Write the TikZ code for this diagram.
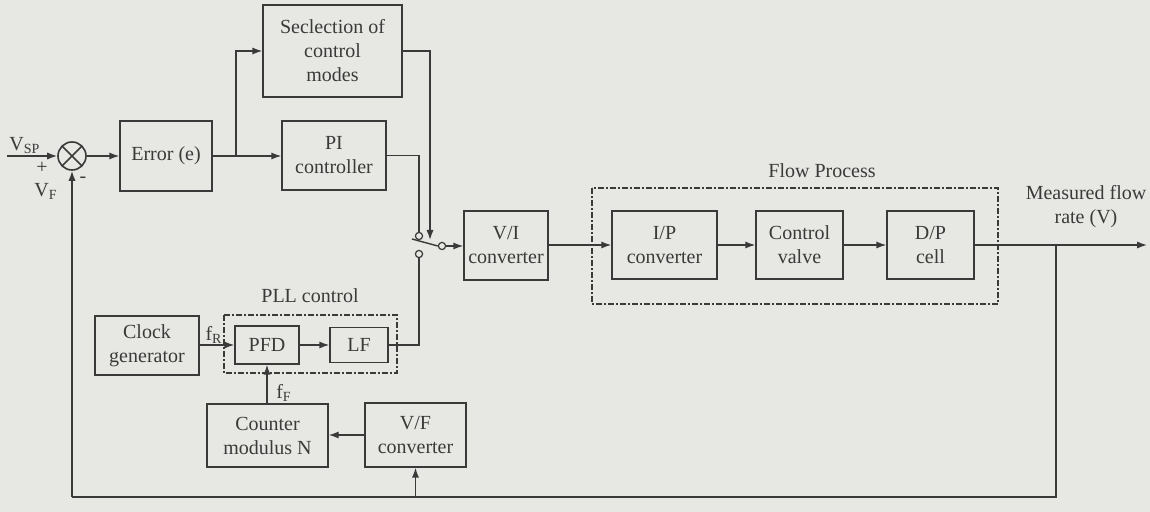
\documentclass[tikz,border=0pt]{standalone}
\usepackage{fontspec}
\setmainfont{Liberation Serif}
\usetikzlibrary{arrows.meta}
\definecolor{paper}{RGB}{231,231,227}
\definecolor{ink}{RGB}{58,58,58}
\begin{document}
\begin{tikzpicture}[x=0.5pt,y=-0.5pt,
  every node/.style={text=ink, font=\fontsize{10}{12}\selectfont},
  blk/.style={draw=ink, fill=paper, line width=0.7pt, align=center, inner sep=0pt},
  grp/.style={draw=ink, line width=0.55pt, dash pattern=on 3pt off 1.2pt on 0.6pt off 1.2pt},
  wire/.style={draw=ink, line width=0.7pt},
  arr/.style={wire, -{Latex[length=5pt,width=3.6pt]}},
  contact/.style={circle, draw=ink, fill=paper, line width=0.6pt, minimum size=3.6pt, inner sep=0pt},
  sumj/.style={circle, draw=ink, fill=paper, line width=0.8pt, minimum size=14pt, inner sep=0pt,
    path picture={\draw[ink, line width=0.8pt]
      (path picture bounding box.north west) -- (path picture bounding box.south east)
      (path picture bounding box.north east) -- (path picture bounding box.south west);}},
  lbl/.style={inner sep=0pt}
]
\useasboundingbox[fill=paper] (0,0) rectangle (1150,512);

% process groups
\draw[grp] (592,188) rectangle (998,304);
\draw[grp] (224,315) rectangle (397,373);
\node[lbl] (flowlbl) at (822,171) {Flow Process};
\node[lbl] (plllbl) at (310,296) {PLL control};

% blocks
\node[sumj] (sum) at (72,156) {};
\node[blk, minimum width=46pt, minimum height=35pt] (err) at (166,156) {Error (e)};
\node[blk, minimum width=69.5pt, minimum height=46pt] (sel) at (332.5,51) {Seclection of\\control\\modes};
\node[blk, minimum width=52pt, minimum height=34.5pt] (pi) at (334,155.5) {PI\\controller};
\node[blk, minimum width=42pt, minimum height=34.5pt] (vi) at (506,245.5) {V/I\\converter};
\node[blk, minimum width=52.5pt, minimum height=34pt] (ip) at (664.5,245) {I/P\\converter};
\node[blk, minimum width=43.5pt, minimum height=34pt] (cv) at (799.5,245) {Control\\valve};
\node[blk, minimum width=43.5pt, minimum height=34pt] (dp) at (930.5,245) {D/P\\cell};
\node[blk, minimum width=52pt, minimum height=29.5pt] (clk) at (147,345.5) {Clock\\generator};
\node[blk, minimum width=32pt, minimum height=19pt] (pfd) at (267,345) {PFD};
\node[blk, minimum width=29pt, minimum height=17.5pt] (lf) at (359,345) {LF};
\node[blk, minimum width=60.5pt, minimum height=31.5pt] (cnt) at (267.5,435.5) {Counter\\modulus N};
\node[blk, minimum width=50.5pt, minimum height=32pt] (vf) at (415.5,435) {V/F\\converter};

% switch
\node[contact] (c1) at (419,236) {};
\node[contact] (c2) at (419,254) {};
\node[contact] (c3) at (442,246) {};
\coordinate (bladeEnd) at (412,239);
\coordinate (selTip) at (430,240);

% signal labels
\node[lbl, anchor=west] (vsp) at (9,146) {V\textsubscript{SP}};
\node[lbl] (plus) at (42,168) {+};
\node[lbl] (vfb) at (46,191) {V\textsubscript{F}};
\node[lbl] (minus) at (83,180) {-};
\node[lbl] (fr) at (214,335) {f\textsubscript{R}};
\node[lbl] (ff) at (284,393) {f\textsubscript{F}};
\node[lbl, align=center] (meas) at (1086,207) {Measured flow\\rate (V)};

% coordinates on the wires
\coordinate (vin) at (7,156);
\coordinate (j1) at (236,156);
\coordinate (out) at (1147,245);
\coordinate (tap) at (1056,245);
\coordinate (bot) at (1056,497);
\coordinate (botL) at (72,497);
\coordinate (botVF) at (415.5,497);

% forward path
\draw[arr] (vin) -- (sum.west);
\draw[arr] (sum.east) -- (err.west);
\draw[wire] (err.east) -- (j1);
\draw[arr] (j1) |- (sel.west);
\draw[arr] (j1) -- (j1 -| pi.west);
\draw[arr] (sel.east) -| (selTip);
\draw[wire] (pi.east) -| (c1.north);
\draw[wire] (c3.west) -- (bladeEnd);
\draw[arr] (c3.east) -- (c3.east -| vi.west);
\draw[arr] (vi.east |- ip.west) -- (ip.west);
\draw[arr] (ip.east) -- (cv.west);
\draw[arr] (cv.east) -- (dp.west);
\draw[arr] (dp.east) -- (out);

% PLL path
\draw[arr] (clk.east |- pfd.west) -- (pfd.west);
\draw[arr] (pfd.east) -- (lf.west);
\draw[wire] (lf.east) -| (c2.south);
\draw[arr] (cnt.north -| pfd.south) -- (pfd.south);
\draw[arr] (vf.west) -- (vf.west -| cnt.east);

% feedback
\draw[wire] (tap) -- (bot) -- (botL);
\draw[arr] (botL) -- (sum.south);
\draw[arr] (botVF) -- (vf.south);
\end{tikzpicture}
\end{document}
